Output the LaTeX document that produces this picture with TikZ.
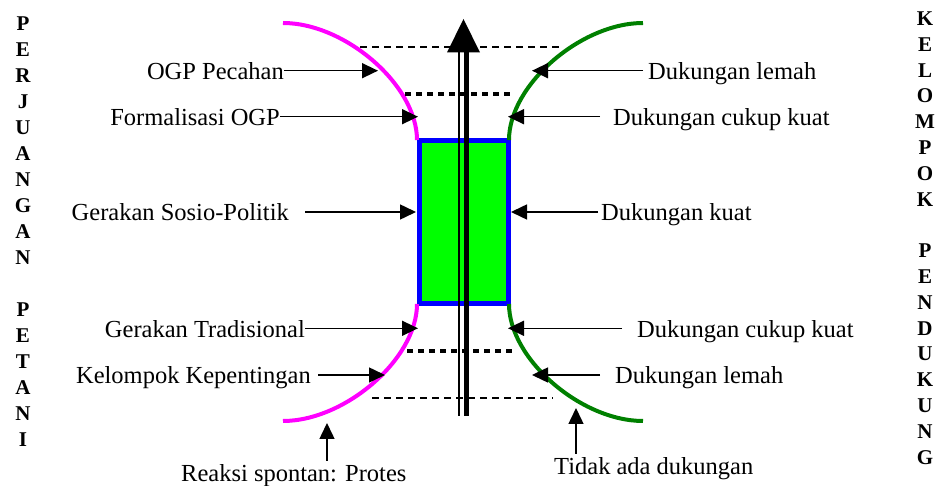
\documentclass[tikz,border=0pt]{standalone}
\usepackage{fontspec}
\setmainfont{Liberation Serif}
\newfontfamily\tnr{Liberation Serif}
\usetikzlibrary{arrows.meta}
\definecolor{mag}{RGB}{255,0,255}
\definecolor{dgreen}{RGB}{0,128,0}
\definecolor{lgreen}{RGB}{0,255,0}
\definecolor{bblue}{RGB}{0,0,255}
\begin{document}
\begin{tikzpicture}[x=1pt,y=-1pt,
  lbl/.style={inner sep=0pt, font=\tnr\fontsize{24.5}{28}\selectfont},
  vl/.style={inner sep=0pt, font=\tnr\fontsize{21}{26}\selectfont\bfseries, anchor=base},
  arr/.style={line width=1.5pt, -{Triangle[length=16pt,width=15pt]}},
  curveL/.style={line width=4pt, draw=mag},
  curveR/.style={line width=4pt, draw=dgreen},
  thindash/.style={line width=1.3pt, dash pattern=on 7pt off 5pt},
  thickdot/.style={line width=4.5pt, dash pattern=on 6pt off 5pt},
  boxst/.style={draw=bblue, fill=lgreen, line width=5pt, inner sep=0pt}]
\useasboundingbox (0,0) rectangle (938,486);

% box
\node[boxst, minimum width=89pt, minimum height=162.5pt] (box) at (463.5,222.25) {};

% curves
\draw[curveL] (283,23) .. controls (345,23) and (417,85) .. (417,140);
\draw[curveL] (417,304) .. controls (417,359) and (345,421) .. (283,421);
\draw[curveR] (643,23) .. controls (581,23) and (509,85) .. (509,140);
\draw[curveR] (509,304) .. controls (509,359) and (581,421) .. (643,421);

% dashed levels
\draw[thindash] (360,47) -- (563,47);
\draw[thickdot] (405,94) -- (513,94);
\draw[thickdot] (407,351) -- (515,351);
\draw[thindash] (372,398) -- (553,398);

% central arrow
\draw[line width=1.3pt] (459,52) -- (459,416);
\draw[line width=5pt] (466,52) -- (466,416);
\fill (463.5,19) -- (480,52.5) -- (447,52.5) -- cycle;

% tip coordinates
\coordinate (tOGPp) at (378,70.7);
\coordinate (tForm) at (418,116.7);
\coordinate (tSosio) at (416,212);
\coordinate (tTrad) at (418,328.3);
\coordinate (tKep) at (385,375);
\coordinate (tLemahA) at (532,70.7);
\coordinate (tCukupA) at (508,116.7);
\coordinate (tKuat) at (511,212);
\coordinate (tCukupB) at (508,328.3);
\coordinate (tLemahB) at (532,375);
\coordinate (tReaksi) at (327,423);
\coordinate (tTidak) at (576,408);

% left labels
\node[lbl, anchor=base east] (ogpp) at (284,79.7) {OGP Pecahan};
\node[lbl, anchor=base east] (form) at (280,125.7) {Formalisasi OGP};
\node[lbl, anchor=base east] (sosio) at (289,221) {Gerakan Sosio-Politik};
\node[lbl, anchor=base east] (trad) at (305,337.3) {Gerakan Tradisional};
\node[lbl, anchor=base east] (kep) at (311,384) {Kelompok Kepentingan};
\node[lbl, anchor=base west] (reaksi) at (181,482) {Reaksi spontan: Protes};

% right labels
\node[lbl, anchor=base west] (lemahA) at (648,79.7) {Dukungan lemah};
\node[lbl, anchor=base west] (cukupA) at (613,125.7) {Dukungan cukup kuat};
\node[lbl, anchor=base west] (kuat) at (601,221) {Dukungan kuat};
\node[lbl, anchor=base west] (cukupB) at (637,337.3) {Dukungan cukup kuat};
\node[lbl, anchor=base west] (lemahB) at (615,384) {Dukungan lemah};
\node[lbl, anchor=base west] (tidak) at (554,475) {Tidak ada dukungan};

% arrows left
\draw[arr] ([yshift=9pt]ogpp.base east) -- (tOGPp);
\draw[arr] ([yshift=9pt]form.base east) -- (tForm);
\draw[arr] ([xshift=16pt,yshift=9pt]sosio.base east) -- (tSosio);
\draw[arr] ([yshift=9pt]trad.base east) -- (tTrad);
\draw[arr] ([xshift=7pt,yshift=9pt]kep.base east) -- (tKep);
\draw[arr] (reaksi.north -| tReaksi) ++(0,-4) -- (tReaksi);

% arrows right
\draw[arr] ([xshift=-5pt,yshift=9pt]lemahA.base west) -- (tLemahA);
\draw[arr] ([xshift=-13pt,yshift=9pt]cukupA.base west) -- (tCukupA);
\draw[arr] ([xshift=-3pt,yshift=9pt]kuat.base west) -- (tKuat);
\draw[arr] ([xshift=-15pt,yshift=9pt]cukupB.base west) -- (tCukupB);
\draw[arr] ([xshift=-15pt,yshift=9pt]lemahB.base west) -- (tLemahB);
\draw[arr] (tidak.north -| tTidak) ++(0,-4) -- (tTidak);

% vertical texts
\foreach \l/\k in {P/0,E/1,R/2,J/3,U/4,A/5,N/6,G/7,A/8,N/9,P/11,E/12,T/13,A/14,N/15,I/16}
  \node[vl] (lv\k) at (23,30.5+26*\k) {\l};
\foreach \l/\k in {K/0,E/1,L/2,O/3,M/4,P/5,O/6,K/7,P/9,E/10,N/11,D/12,U/13,K/14,U/15,N/16,G/17}
  \node[vl] (rv\k) at (925,25.5+25.8*\k) {\l};
\end{tikzpicture}
\end{document}
